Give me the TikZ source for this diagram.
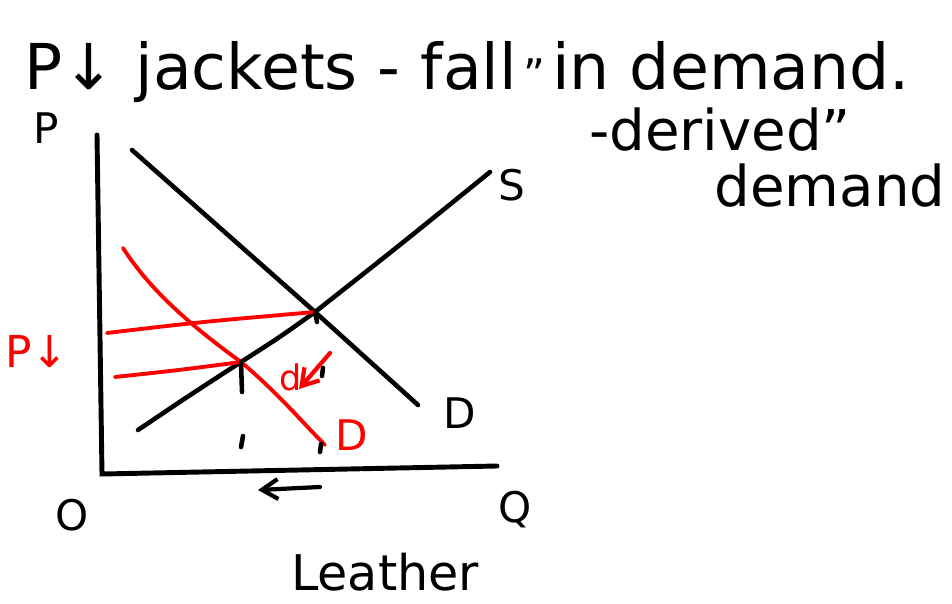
\documentclass[tikz,border=0pt]{standalone}
\usepackage{fontspec}
\setmainfont{DejaVu Sans}
\usetikzlibrary{arrows.meta,positioning}
\tikzset{
	axisline/.style={line width=2.8pt, line cap=round},
	curveline/.style={line width=2.6pt, line cap=round},
	shiftline/.style={line width=2.2pt, line cap=round, red},
	penmark/.style={line width=2.6pt, line cap=round},
	movearr/.style={-{Straight Barb[length=3.2mm, width=4mm]}, line width=2.4pt, line cap=round},
	headtext/.style={font=\fontsize{36}{42}\selectfont, inner sep=0pt},
	bigtext/.style={font=\fontsize{32}{36}\selectfont, inner sep=0pt},
	lbltext/.style={font=\fontsize{24}{28}\selectfont, inner sep=0pt}
}
\begin{document}
\begin{tikzpicture}[x=0.02cm, y=-0.02cm]
	\useasboundingbox (0,0) rectangle (952,604);
	% heading
	\node[headtext, anchor=base west] (head) at (24,90) {P↓ jackets - fall};
	\node[lbltext, anchor=base west] (quote) at ([xshift=0.12cm]head.base east) {"};
	\node[headtext, anchor=base west] (headb) at ([xshift=0.12cm]quote.base east) {in demand.};
	\node[bigtext] (derived) at (720,130) {-derived"};
	\node[bigtext] (demand) at (830,186) {demand};
	% axes
	\coordinate (top) at (97,135);
	\coordinate (orig) at (102,474);
	\coordinate (right) at (497,466);
	\draw[axisline] (top) -- (orig) -- (right);
	\node[lbltext] (plbl) at (46,128) {P};
	\node[lbltext] (olbl) at (72,515) {O};
	\node[lbltext] (qlbl) at (515,510) {Q};
	\node[font=\fontsize{28}{32}\selectfont, inner sep=0pt] (leather) at (385,572) {Leather};
	% equilibria
	\coordinate (eold) at (315,312);
	\coordinate (enew) at (241,362);
	% demand and supply
	\coordinate (dtop) at (132,150);
	\coordinate (dend) at (418,405);
	\draw[curveline] (dtop) -- (eold) -- (dend);
	\node[lbltext] (dlbl) at (460,413) {D};
	\coordinate (sbot) at (138,430);
	\coordinate (stop) at (490,172);
	\draw[curveline] (sbot) .. controls (190,395) .. (enew) .. controls (280,337) .. (eold) .. controls (400,245) .. (stop);
	\node[lbltext] (slbl) at (512,185) {S};
	% new demand
	\coordinate (ntop) at (123,248);
	\coordinate (nend) at (325,445);
	\draw[shiftline] (ntop) .. controls (150,290) and (190,325) .. (enew) .. controls (280,395) and (300,420) .. (nend);
	\node[lbltext, red] (nlbl) at (352,435) {D};
	% price levels
	\coordinate (pold) at (107,333);
	\coordinate (pnew) at (115,377);
	\draw[shiftline] (pold) .. controls (200,322) .. (eold);
	\draw[shiftline] (pnew) .. controls (180,370) .. (enew);
	\node[font=\fontsize{25}{30}\selectfont, inner sep=0pt, red] (pdown) at (37,352) {P↓};
	% shift arrow
	\coordinate (sfrom) at (330,353);
	\coordinate (sto) at (299,389);
	\draw[movearr, red] (sfrom) -- (sto);
	\node[font=\fontsize{20}{24}\selectfont, inner sep=0pt, red] (dsmall) at (291,377) {d};
	\coordinate (qfrom) at (320,487);
	\coordinate (qto) at (258,490);
	\draw[movearr] (qfrom) -- (qto);
	% pen marks
	\draw[penmark] (enew) -- (242,392);
	\draw[penmark] (eold) -- (317,322);
	\draw[penmark] (323,368) -- (322,376);
	\draw[penmark] (243,436) -- (241,447);
	\draw[penmark] (321,444) -- (320,452);
\end{tikzpicture}
\end{document}
